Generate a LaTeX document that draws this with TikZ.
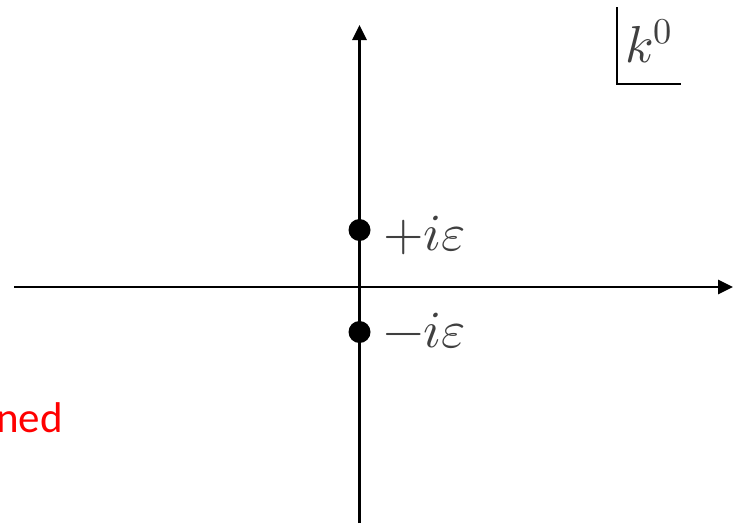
\documentclass[tikz,border=0pt]{standalone}
\usepackage{fontspec}
\usepackage{unicode-math}
\setmathfont{Latin Modern Math}
\newfontfamily\carlito{Carlito}
\usetikzlibrary{arrows.meta}
\definecolor{txtgray}{HTML}{404040}
\tikzset{
  axis/.style={line width=2.8pt,-{Triangle[length=15pt,width=14pt]}},
  pole/.style={circle,fill=black,inner sep=0pt,minimum size=22pt},
  lbl/.style={anchor=base west,inner sep=0pt,text=txtgray,font=\fontsize{52}{58}\selectfont},
  boxline/.style={line width=2.6pt}
}
\begin{document}
\begin{tikzpicture}[x=1pt,y=-1pt]
\useasboundingbox (0,0) rectangle (733,523);
\begin{scope}
\clip (0,0) rectangle (733,523);
% axes
\coordinate (hL) at (14,287);
\coordinate (hR) at (733,287);
\coordinate (vB) at (359.5,523);
\coordinate (vT) at (359.5,25);
\draw[axis] (hL) -- (hR);
\draw[axis] (vB) -- (vT);
% poles
\node[pole] (p1) at (359.5,230) {};
\node[pole] (p2) at (359.5,332) {};
\node[lbl] (l1) at (383,250) {$+i\varepsilon$};
\node[lbl] (l2) at (383,347) {$-i\varepsilon$};
% k0 box
\coordinate (bT) at (617,7);
\coordinate (bC) at (617,84);
\coordinate (bR) at (681,84);
\draw[boxline] (bT) -- (bC) -- (bR);
\node[lbl] (k) at (625,62) {$k^0$};
% red text
\node[anchor=base west,inner sep=0pt,text=red,font=\carlito\fontsize{43}{50}\selectfont] (red) at (-4,432) {ned};
\end{scope}
\end{tikzpicture}
\end{document}
